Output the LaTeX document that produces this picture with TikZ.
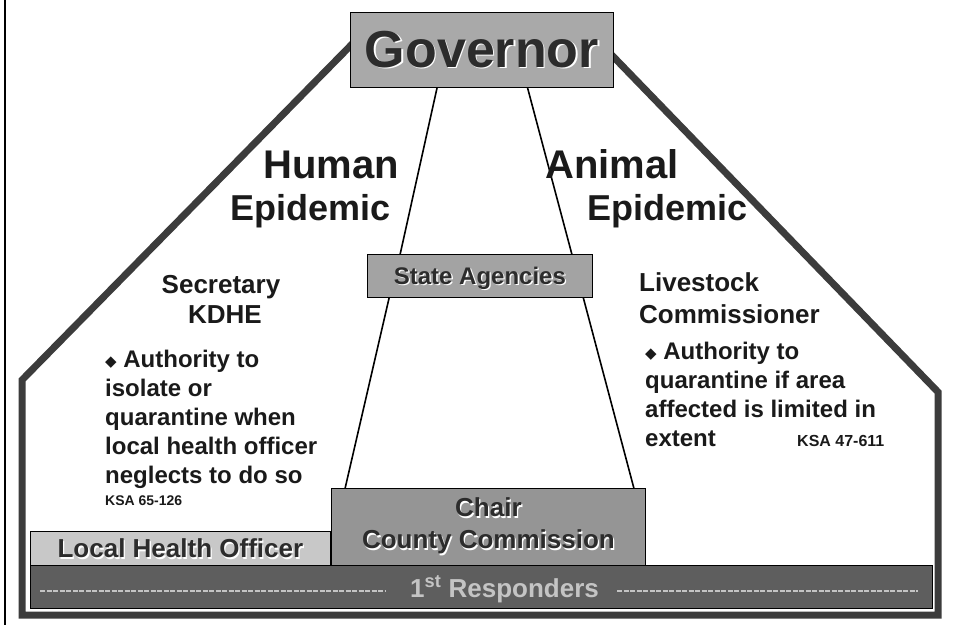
\documentclass[tikz,border=0pt]{standalone}
\usepackage{fontspec}
\setmainfont{Liberation Sans}
\newfontfamily\dejavu{DejaVu Sans}
\usepackage{tikz}
\usetikzlibrary{calc}

\definecolor{framegray}{HTML}{3C3C3C}
\definecolor{govfill}{HTML}{A9A9A9}
\definecolor{agfill}{HTML}{A3A3A3}
\definecolor{chairfill}{HTML}{959595}
\definecolor{lhofill}{HTML}{C8C8C8}
\definecolor{barfill}{HTML}{5E5E5E}
\definecolor{boxtext}{HTML}{2C2C2C}
\definecolor{respgray}{HTML}{C4C4C4}
\definecolor{bodytext}{HTML}{1A1A1A}

\newcommand{\embos}[1]{\rlap{\hspace{1.3pt}\raisebox{-1.3pt}{\color{white}#1}}#1}
\newcommand{\bul}{{\dejavu\fontsize{15}{15}\selectfont\raisebox{1.5pt}{◆}}}

\tikzset{
  box/.style={draw=black, line width=0.8pt, anchor=north west, inner sep=0pt, text=boxtext, align=center},
  txt/.style={anchor=base west, inner sep=0pt, text=bodytext},
  link/.style={line width=1.6pt, black},
  frame/.style={line width=7pt, draw=framegray, line join=miter},
  respdash/.style={line width=2pt, draw=respgray, dash pattern=on 5pt off 1.5pt}
}

\begin{document}
\begin{tikzpicture}[x=1pt,y=-1pt]
\useasboundingbox (0,0) rectangle (957,625);

% margin rule
\draw[line width=1.6pt] (5,0) -- (5,625);

% outer frame
\draw[frame] (360,36) -- (22,380) -- (22,615) -- (938,615) -- (938,392) -- (603,46);

% boxes
\node[box, fill=govfill, minimum width=263pt, minimum height=75pt, font=\fontsize{52}{52}\selectfont\bfseries] (gov) at (350,12) {\embos{Governor}};
\node[box, fill=agfill, minimum width=225pt, minimum height=43pt, text depth=0pt, font=\fontsize{24}{24}\selectfont\bfseries] (ag) at (367,254) {\embos{State Agencies}};
\node[box, fill=chairfill, minimum width=314pt, minimum height=77pt, font=\fontsize{26}{32}\selectfont\bfseries] (chair) at (331,488) {\embos{Chair}\\\embos{County Commission}};
\node[box, fill=lhofill, minimum width=300pt, minimum height=34pt, text depth=0pt, font=\fontsize{26}{26}\selectfont\bfseries] (lho) at (30,531) {\embos{Local Health Officer}};
\node[box, fill=barfill, minimum width=902pt, minimum height=43pt] (bar) at (30,565) {};
\node[anchor=base west, inner sep=0pt, text=respgray, font=\fontsize{26}{26}\selectfont\bfseries] (resp) at (410,597) {1\textsuperscript{st} Responders};

% links
\draw[link] ($(gov.south west)!0.33!(gov.south east)$) -- ($(ag.north west)!0.147!(ag.north east)$);
\draw[link] ($(gov.south west)!0.673!(gov.south east)$) -- ($(ag.north west)!0.907!(ag.north east)$);
\draw[link] ($(ag.south west)!0.098!(ag.south east)$) -- ($(chair.north west)!0.045!(chair.north east)$);
\draw[link] ($(ag.south west)!0.958!(ag.south east)$) -- ($(chair.north west)!0.962!(chair.north east)$);

% dashes in the bar
\draw[respdash] ([xshift=10pt,yshift=-2pt]bar.west |- resp.west) -- ([xshift=-25pt,yshift=-2pt]resp.west);
\draw[respdash] ([xshift=18pt,yshift=-2pt]resp.east) -- ([xshift=-15pt,yshift=-2pt]bar.east |- resp.east);

% headings
\node[txt, font=\fontsize{40}{40}\selectfont\bfseries] (hum) at (263,178) {Human};
\node[txt, font=\fontsize{36}{36}\selectfont\bfseries] (hepi) at (230,220) {Epidemic};
\node[txt, font=\fontsize{40}{40}\selectfont\bfseries] (ani) at (545,178) {Animal};
\node[txt, font=\fontsize{36}{36}\selectfont\bfseries] (aepi) at (587,220) {Epidemic};

% human side
\node[txt, anchor=base, font=\fontsize{26}{26}\selectfont\bfseries] (sec) at (221,293) {Secretary};
\node[txt, anchor=base, font=\fontsize{26}{26}\selectfont\bfseries] (kdhe) at (225,323) {KDHE};
\node[txt, anchor=north west, align=left, font=\fontsize{24}{29}\selectfont\bfseries] (hauth) at (105,350) {\bul\ Authority to\\isolate or\\quarantine when\\local health officer\\neglects to do so};
\node[txt, font=\fontsize{14}{14}\selectfont\bfseries] (hksa) at (105,505) {KSA 65-126};

% animal side
\node[txt, font=\fontsize{26}{26}\selectfont\bfseries] (live) at (639,291) {Livestock};
\node[txt, font=\fontsize{26}{26}\selectfont\bfseries] (comm) at (639,323) {Commissioner};
\node[txt, anchor=north west, align=left, font=\fontsize{24}{29}\selectfont\bfseries] (aauth) at (645,342) {\bul\ Authority to\\quarantine if area\\affected is limited in\\extent};
\node[txt, font=\fontsize{16}{16}\selectfont\bfseries] (aksa) at (797,446) {KSA 47-611};

\end{tikzpicture}
\end{document}
